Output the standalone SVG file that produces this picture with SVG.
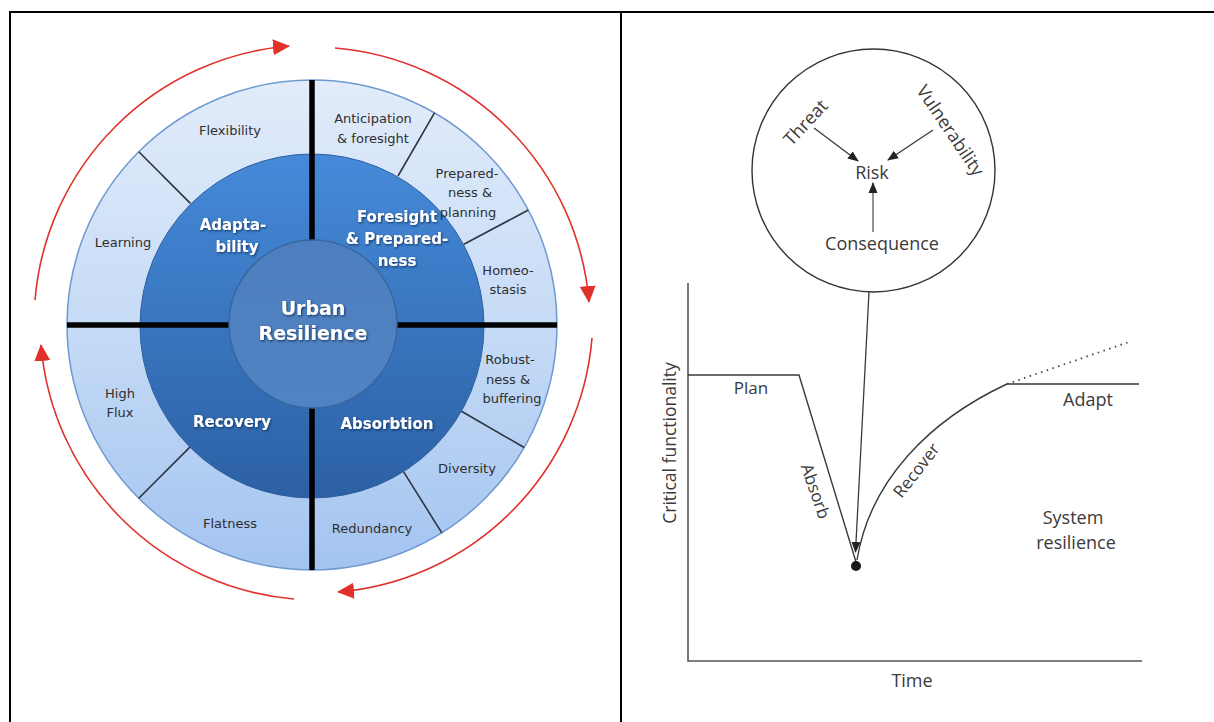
<svg xmlns="http://www.w3.org/2000/svg" width="1214" height="722" viewBox="0 0 1214 722">
<style>
.frame{stroke:#000;stroke-width:2;fill:none}
.outer{font-family:"DejaVu Sans",Verdana,sans-serif;font-size:13px;fill:#2f2f2f;text-anchor:middle;dominant-baseline:central}
.mid{font-family:"DejaVu Sans",Verdana,sans-serif;font-size:15px;font-weight:bold;fill:#fff;text-anchor:middle;dominant-baseline:central}
.core{font-family:"DejaVu Sans",Verdana,sans-serif;font-size:19px;font-weight:bold;fill:#fff;text-anchor:middle;dominant-baseline:central}
.thin{stroke:#2e3440;stroke-width:1.6}
.bar{stroke:#000;stroke-width:5.5}
.red{fill:none;stroke:#e0312c;stroke-width:1.6}
.lbl{font-family:"Open Sans","Noto Sans",sans-serif;font-size:18px;fill:#3a3a3a;text-anchor:middle;dominant-baseline:central}
.ln{fill:none;stroke:#3a3a3a;stroke-width:1.4}
.ax{fill:none;stroke:#555;stroke-width:1.6}
</style>
<defs>
<linearGradient id="gOuter" x1="0" y1="0" x2="0" y2="1">
<stop offset="0" stop-color="#e2ecfa"/>
<stop offset="0.5" stop-color="#c6dbf6"/>
<stop offset="1" stop-color="#a3c4f0"/>
</linearGradient>
<linearGradient id="gMid" x1="0" y1="0" x2="0" y2="1">
<stop offset="0" stop-color="#458ad9"/>
<stop offset="1" stop-color="#2c60a4"/>
</linearGradient>
<linearGradient id="gCore" x1="0" y1="0" x2="0" y2="1">
<stop offset="0" stop-color="#4d7fbf"/>
<stop offset="1" stop-color="#5083c2"/>
</linearGradient>
<filter id="shadow" x="-20%" y="-30%" width="140%" height="160%">
<feDropShadow dx="1" dy="1.2" stdDeviation="0.9" flood-color="#0d2a55" flood-opacity="0.85"/>
</filter>
<marker id="redArrow" markerUnits="userSpaceOnUse" markerWidth="18" markerHeight="16" refX="16" refY="8" orient="auto">
<path d="M0,0 L17,8 L0,16 z" fill="#e0312c"/>
</marker>
<marker id="blkArrow" markerUnits="userSpaceOnUse" markerWidth="12" markerHeight="10" refX="10" refY="5" orient="auto">
<path d="M0,0.5 L11,5 L0,9.5 z" fill="#222"/>
</marker>
</defs>
<rect width="1214" height="722" fill="#fff"/>
<g id="frame">
<line class="frame" x1="9" y1="12" x2="1214" y2="12"/>
<line class="frame" x1="10" y1="12" x2="10" y2="722"/>
<line class="frame" x1="621" y1="12" x2="621" y2="722"/>
</g>

<g id="wheel">
<circle id="ring-outer" cx="312" cy="325" r="245" fill="url(#gOuter)" stroke="#6f99d0" stroke-width="1.5"/>
<g id="ring-dividers">
<line class="thin" x1="190.4" y1="203.4" x2="138.8" y2="151.8"/>
<line class="thin" x1="398" y1="176" x2="434.5" y2="112.8"/>
<line class="thin" x1="463.9" y1="244.3" x2="528.3" y2="210"/>
<line class="thin" x1="461" y1="411" x2="524.2" y2="447.5"/>
<line class="thin" x1="403" y1="470.9" x2="441.8" y2="532.8"/>
<line class="thin" x1="190.4" y1="446.6" x2="138.8" y2="498.2"/>
</g>
<circle id="ring-mid" cx="312" cy="326" r="172" fill="url(#gMid)" stroke="#2d5f9e" stroke-width="1"/>
<g id="bars">
<line class="bar" x1="312" y1="80" x2="312" y2="242"/>
<line class="bar" x1="312" y1="408" x2="312" y2="570"/>
<line class="bar" x1="67" y1="325" x2="230" y2="325"/>
<line class="bar" x1="395" y1="325" x2="557" y2="325"/>
</g>
<g id="core">
<circle cx="313" cy="324" r="84" fill="url(#gCore)" stroke="#39669f" stroke-width="1.5"/>
<text class="core" x="313" y="308" filter="url(#shadow)">Urban</text>
<text class="core" x="313" y="333" filter="url(#shadow)">Resilience</text>
</g>
<g id="adaptability">
<text class="mid" x="233" y="225" filter="url(#shadow)">Adapta-</text>
<text class="mid" x="237" y="247" filter="url(#shadow)">bility</text>
</g>
<g id="foresight">
<text class="mid" x="397" y="217" filter="url(#shadow)">Foresight</text>
<text class="mid" x="397" y="239" filter="url(#shadow)">&amp; Prepared-</text>
<text class="mid" x="397" y="261" filter="url(#shadow)">ness</text>
</g>
<g id="recovery">
<text class="mid" x="232" y="422" filter="url(#shadow)">Recovery</text>
</g>
<g id="absorbtion">
<text class="mid" x="387" y="424" filter="url(#shadow)">Absorbtion</text>
</g>
<g id="flexibility"><text class="outer" x="230" y="130">Flexibility</text></g>
<g id="learning"><text class="outer" x="123" y="242">Learning</text></g>
<g id="anticipation">
<text class="outer" x="373" y="118">Anticipation</text>
<text class="outer" x="373" y="138">&amp; foresight</text>
</g>
<g id="preparedness">
<text class="outer" x="467" y="173">Prepared-</text>
<text class="outer" x="470" y="192">ness &amp;</text>
<text class="outer" x="468" y="212">planning</text>
</g>
<g id="homeostasis">
<text class="outer" x="508" y="270">Homeo-</text>
<text class="outer" x="508" y="289">stasis</text>
</g>
<g id="highflux">
<text class="outer" x="120" y="393">High</text>
<text class="outer" x="120" y="412">Flux</text>
</g>
<g id="flatness"><text class="outer" x="230" y="523">Flatness</text></g>
<g id="robustness">
<text class="outer" x="510" y="359">Robust-</text>
<text class="outer" x="508" y="379">ness &amp;</text>
<text class="outer" x="512" y="398">buffering</text>
</g>
<g id="diversity"><text class="outer" x="467" y="468">Diversity</text></g>
<g id="redundancy"><text class="outer" x="372" y="528">Redundancy</text></g>
</g>

<g id="risk-circle">
<circle cx="873.5" cy="170.5" r="121.5" fill="none" stroke="#333" stroke-width="1.4"/>
</g>
<g id="threat"><text class="lbl" transform="translate(805,122) rotate(-47)">Threat</text></g>
<g id="vulnerability"><text class="lbl" transform="translate(951,130) rotate(56)">Vulnerability</text></g>
<g id="risk"><text class="lbl" x="872" y="172">Risk</text></g>
<g id="consequence"><text class="lbl" x="882" y="243">Consequence</text></g>

<g id="chart">
<path class="ax" d="M688 283 L688 661 L1142 661"/>
<text class="lbl" transform="translate(669,443) rotate(-90)" style="font-size:17.5px">Critical functionality</text>
<text class="lbl" x="912" y="680">Time</text>
<path class="ln" d="M688 375 L799 375 L856 562"/>
<path class="ln" d="M857 560 C870 480 930 420 1007 384 L1139 384"/>
<path d="M1007 384 L1129 342" fill="none" stroke="#444" stroke-width="1.8" stroke-dasharray="1.5 4.5"/>
<circle cx="856" cy="566" r="5" fill="#1a1a1a"/>
</g>
<g id="plan"><text class="lbl" x="751" y="387" style="font-size:17px">Plan</text></g>
<g id="absorb"><text class="lbl" transform="translate(816,491) rotate(71)" style="font-size:17px">Absorb</text></g>
<g id="recover"><text class="lbl" transform="translate(916,470) rotate(-52)" style="font-size:17px">Recover</text></g>
<g id="adapt"><text class="lbl" x="1088" y="399">Adapt</text></g>
<g id="system-resilience">
<text class="lbl" x="1073" y="517">System</text>
<text class="lbl" x="1076" y="542">resilience</text>
</g>

<g id="connectors">
<path class="red" d="M35 300 A278 278 0 0 1 289 46" marker-end="url(#redArrow)"/>
<path class="red" d="M335 48 A278 278 0 0 1 589 302" marker-end="url(#redArrow)"/>
<path class="red" d="M592 338 A278 278 0 0 1 338 592" marker-end="url(#redArrow)"/>
<path class="red" d="M294 599 A278 278 0 0 1 41 345" marker-end="url(#redArrow)"/>
<line class="ln" x1="814" y1="128" x2="858" y2="161" marker-end="url(#blkArrow)" style="stroke-width:1.3"/>
<line class="ln" x1="933" y1="130" x2="888" y2="160" marker-end="url(#blkArrow)" style="stroke-width:1.3"/>
<line class="ln" x1="873" y1="232" x2="873" y2="183" marker-end="url(#blkArrow)" style="stroke-width:1.1"/>
<line class="ln" x1="869" y1="292" x2="855.5" y2="552" marker-end="url(#blkArrow)" style="stroke-width:1.3"/>
</g>
</svg>
